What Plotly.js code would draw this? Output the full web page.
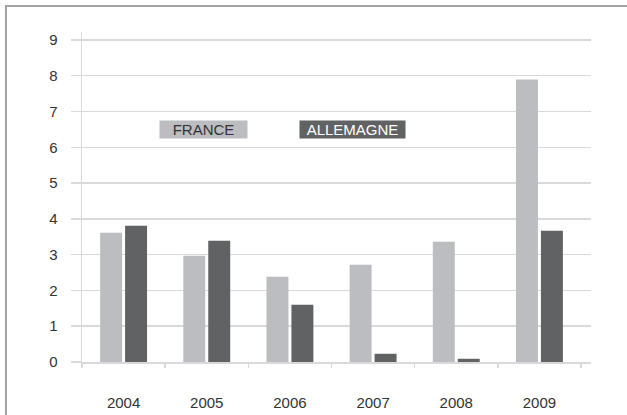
<!DOCTYPE html>
<html>
<head>
<meta charset="utf-8">
<script src="https://cdn.plot.ly/plotly-3.0.1.min.js"></script>
<style>
  html, body { margin: 0; padding: 0; background: #fff; }
  #wrap { position: relative; width: 627px; height: 415px; }
  #chart { position: absolute; left: 0; top: 0; width: 627px; height: 415px; }
  #frame { position: absolute; left: 5px; top: 5px; right: 0; bottom: 0;
           border-left: 2px solid #a3a3a3; border-top: 2px solid #a3a3a3; pointer-events: none; }
</style>
</head>
<body>
<div id="wrap">
  <div id="chart"></div>
  <div id="frame"></div>
</div>
<script>
const years = ['2004', '2005', '2006', '2007', '2008', '2009'];
const france = [3.61, 2.97, 2.38, 2.72, 3.36, 7.89];
const allemagne = [3.81, 3.39, 1.60, 0.23, 0.09, 3.67];
const seriesNames = ['FRANCE', 'ALLEMAGNE'];
const yTicks = [0, 1, 2, 3, 4, 5, 6, 7, 8, 9];

const colFrance = '#bcbdc1';
const colAllemagne = '#616264';
const gridCol = '#d9d9d9';
const font = 'Liberation Sans, Arial, Helvetica, sans-serif';

const traces = [
  { type: 'bar', x: years, y: france, name: seriesNames[0], marker: { color: colFrance } },
  { type: 'bar', x: years, y: allemagne, name: seriesNames[1], marker: { color: colAllemagne } }
];

const layout = {
  width: 627, height: 415,
  margin: { l: 82, r: 36, t: 32, b: 53 },
  paper_bgcolor: 'rgba(0,0,0,0)',
  plot_bgcolor: 'rgba(0,0,0,0)',
  showlegend: false,
  barmode: 'group',
  bargap: 0.4,
  bargroupgap: 0.12,
  font: { family: font, size: 15, color: '#333' },
  xaxis: {
    type: 'category',
    range: [-0.5, 5.62],
    showgrid: false,
    showline: true, linecolor: gridCol, linewidth: 1.5,
    ticks: 'outside', tickson: 'boundaries', ticklen: 4, tickcolor: gridCol, tickwidth: 1.5,
    ticklabelstandoff: 26,
    tickfont: { family: font, size: 15, color: '#333' }
  },
  yaxis: {
    range: [0, 9.22],
    tickvals: yTicks,
    showgrid: true, gridcolor: gridCol, gridwidth: 1.5,
    zeroline: false,
    showline: true, linecolor: gridCol, linewidth: 1.5,
    ticks: 'outside', ticklen: 10, tickcolor: gridCol, tickwidth: 1.5,
    ticklabelstandoff: 10,
    tickfont: { family: font, size: 15, color: '#333' }
  },
  annotations: [
    { xref: 'paper', yref: 'paper', x: 0.2387, y: 0.7036, xanchor: 'center', yanchor: 'middle',
      text: seriesNames[0], showarrow: false, bgcolor: colFrance, width: 87, height: 17, borderpad: 0,
      font: { family: font, size: 15, color: '#333' } },
    { xref: 'paper', yref: 'paper', x: 0.5314, y: 0.7036, xanchor: 'center', yanchor: 'middle',
      text: seriesNames[1], showarrow: false, bgcolor: colAllemagne, width: 105, height: 17, borderpad: 0,
      font: { family: font, size: 15, color: '#fff' } }
  ]
};

Plotly.newPlot('chart', traces, layout, { displayModeBar: false, staticPlot: true });
</script>
</body>
</html>
